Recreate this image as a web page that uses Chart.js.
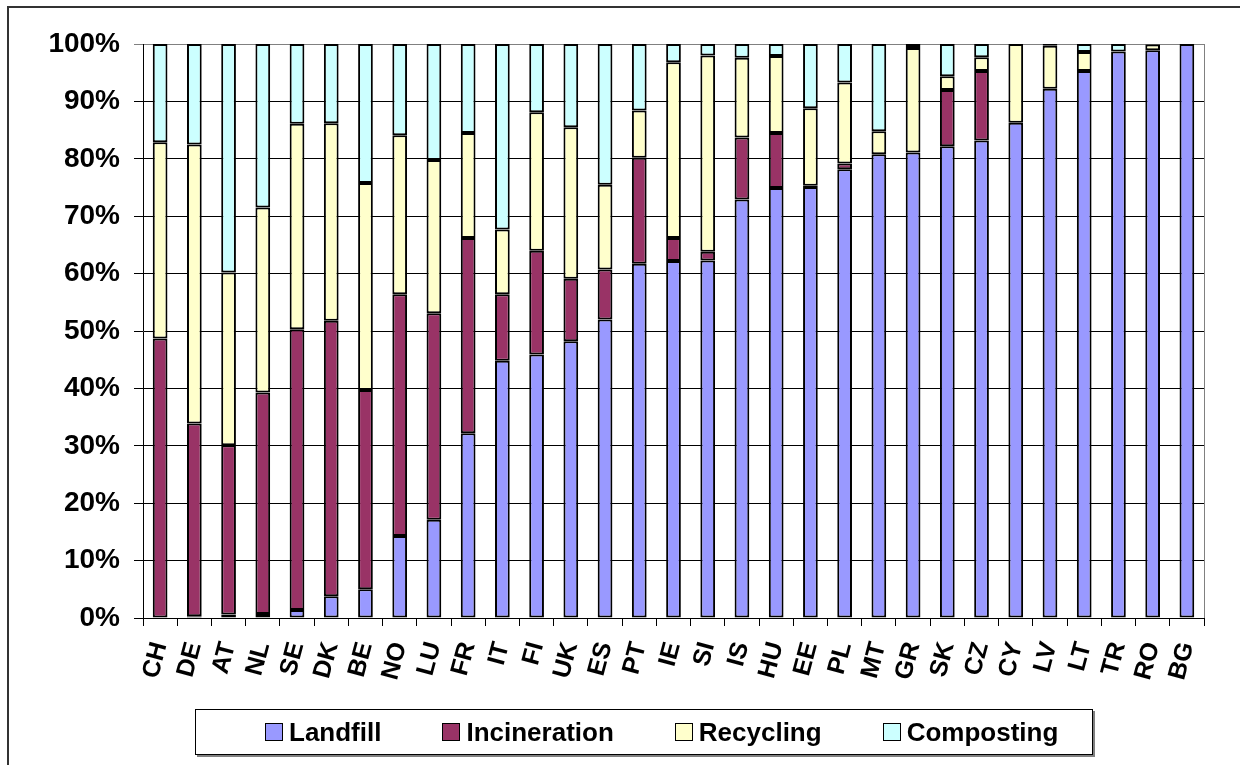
<!DOCTYPE html>
<html lang="en">
<head>
  <meta charset="UTF-8">
  <title>Waste treatment by country</title>
  <script src="https://cdn.jsdelivr.net/npm/chart.js@4.4.0/dist/chart.umd.min.js"></script>
  <style>
    body { margin: 0; background: #fff; }
    #wrap { position: relative; width: 1240px; height: 765px; }
    #legend {
      position: absolute; left: 195px; top: 709px; width: 898px; height: 46px;
      border: 1px solid #000; box-shadow: 2px 2px 0 #808080; background: #fff;
      display: flex; align-items: center; padding-left: 69px; box-sizing: border-box; gap: 61px;
      font: bold 26px "Liberation Sans", Arial, sans-serif; color: #000;
    }
    #legend span.item { display: flex; align-items: center; }
    #legend span.box { width: 16px; height: 16px; border: 1px solid #000; margin-right: 6px; }
  </style>
</head>
<body>
  <div id="wrap">
    <canvas id="wasteChart" width="1240" height="765"></canvas>
    <div id="legend"></div>
  </div>

  <script>
    // shares in % of municipal waste
    const countries = ['CH', 'DE', 'AT', 'NL', 'SE', 'DK', 'BE', 'NO', 'LU', 'FR', 'IT', 'FI', 'UK', 'ES', 'PT', 'IE',
      'SI', 'IS', 'HU', 'EE', 'PL', 'MT', 'GR', 'SK', 'CZ', 'CY', 'LV', 'LT', 'TR', 'RO', 'BG'];
    const landfill = [0, 0.3, 0.6, 0.7, 1.4, 3.8, 5.0, 14.3, 17.1, 32.2, 44.8, 45.9, 48.2, 52.0, 61.7, 62.2,
      62.3, 72.9, 74.9, 75.1, 78.2, 80.8, 81.1, 82.2, 83.2, 86.3, 92.2, 95.3, 98.7, 98.9, 100];
    const incineration = [48.7, 33.6, 29.5, 38.6, 48.9, 48.0, 34.7, 42.1, 36.0, 34.0, 11.6, 18.1, 10.9, 8.7, 18.5, 4.0,
      1.5, 10.8, 9.6, 0.2, 1.0, 0, 0, 9.8, 12.1, 0, 0, 0, 0, 0, 0];
    const recycling = [34.2, 48.6, 30.1, 32.2, 35.8, 34.4, 36.1, 27.7, 26.7, 18.3, 11.3, 24.1, 26.4, 14.8, 8.2, 30.6,
      34.2, 13.9, 13.4, 13.5, 14.1, 4.0, 18.2, 2.4, 2.4, 13.7, 7.5, 3.3, 0, 1.0, 0];
    const composting = [17.1, 17.5, 39.8, 28.5, 13.9, 13.8, 24.2, 15.9, 20.2, 15.5, 32.3, 11.9, 14.5, 24.5, 11.6, 3.2,
      2.0, 2.4, 2.1, 11.2, 6.7, 15.2, 0.7, 5.6, 2.3, 0, 0.3, 1.4, 1.3, 0.1, 0];
    const yTicks = [0, 10, 20, 30, 40, 50, 60, 70, 80, 90, 100];

    const font = '"Liberation Sans", Arial, sans-serif';

    function series(label, data, color) {
      return {
        label: label,
        data: data,
        backgroundColor: color,
        borderColor: '#000',
        borderWidth: 2,
        borderSkipped: false,
        categoryPercentage: 1,
        barPercentage: 0.43
      };
    }

    // outer frame and the grey right edge of the plot
    const frame = {
      id: 'frame',
      beforeDraw(chart) {
        const ctx = chart.ctx;
        ctx.save();
        ctx.fillStyle = '#fff';
        ctx.fillRect(0, 0, chart.width, chart.height);
        ctx.strokeStyle = '#333';
        ctx.lineWidth = 2;
        ctx.strokeRect(8, 7, 1300, 800);
        ctx.restore();
      },
      beforeDatasetsDraw(chart) {
        const { ctx, chartArea } = chart;
        ctx.save();
        ctx.strokeStyle = '#808080';
        ctx.lineWidth = 1;
        ctx.beginPath();
        ctx.moveTo(chartArea.right + 0.5, chartArea.top);
        ctx.lineTo(chartArea.right + 0.5, chartArea.bottom);
        ctx.stroke();
        ctx.restore();
      }
    };

    const chart = new Chart(document.getElementById('wasteChart'), {
      type: 'bar',
      data: {
        labels: countries,
        datasets: [
          series('Landfill', landfill, '#9999FF'),
          series('Incineration', incineration, '#993366'),
          series('Recycling', recycling, '#FFFFCC'),
          series('Composting', composting, '#CCFFFF')
        ]
      },
      options: {
        responsive: false,
        animation: false,
        layout: { padding: { top: 44, right: 36, bottom: 65, left: 0 } },
        plugins: {
          legend: { display: false },
          tooltip: { enabled: false }
        },
        scales: {
          x: {
            stacked: true,
            afterFit: (scale) => { scale.height = 82; },
            grid: { drawOnChartArea: false, color: '#000', tickLength: 8 },
            border: { color: '#000', width: 1 },
            ticks: {
              autoSkip: false, minRotation: 75, maxRotation: 75, padding: 13,
              color: '#000', font: { family: font, size: 25, weight: 'bold' }
            }
          },
          y: {
            stacked: true,
            min: 0,
            max: 100,
            afterFit: (scale) => { scale.width = 143; },
            afterBuildTicks: (scale) => { scale.ticks = yTicks.map(v => ({ value: v })); },
            grid: {
              color: (c) => c.tick && c.tick.value === 100 ? '#808080' : '#000',
              tickLength: 9
            },
            border: { color: '#000', width: 1 },
            ticks: {
              padding: 14,
              color: '#000',
              font: { family: font, size: 28, weight: 'bold' },
              callback: (v) => v + '%'
            }
          }
        }
      },
      plugins: [frame]
    });

    // legend built from the datasets
    const legend = document.getElementById('legend');
    chart.data.datasets.forEach(ds => {
      const item = document.createElement('span');
      item.className = 'item';
      item.innerHTML = '<span class="box" style="background:' + ds.backgroundColor + '"></span>' + ds.label;
      legend.appendChild(item);
    });
  </script>
</body>
</html>
